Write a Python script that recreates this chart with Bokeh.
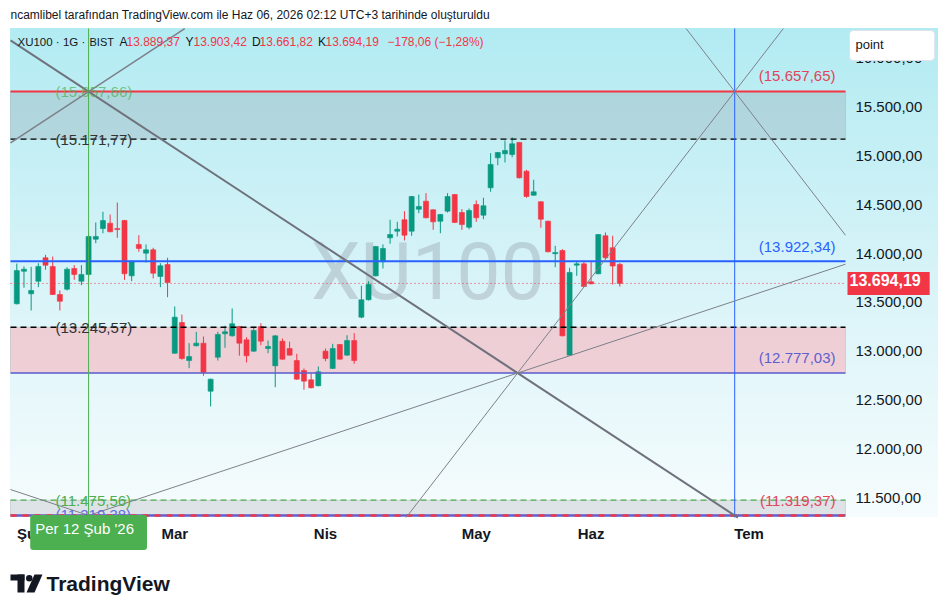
import numpy as np
from bokeh.plotting import figure
from bokeh.models import (FixedTicker, CustomJSTickFormatter, BoxAnnotation,
                          Label, ColumnDataSource, Range1d, PolyAnnotation)
from bokeh.embed import file_html
from bokeh.resources import INLINE

# ---------------- data (daily bars, index 0 = 29 Oca 2026) ----------------
opens = [13486, 13819, 13588, 13717, 13957, 13868, 13581, 13635, 13847, 13717,
         13786, 14147, 14256, 14311, 14256, 14338, 13772, 14093, 14004, 14038,
         13765, 13888, 12980, 13294, 12905, 13056, 13083, 12591, 12939, 13179,
         13158, 13253, 13117, 13001, 13253, 13028, 12851, 13103, 13028, 12905,
         12803, 12708, 12647, 13001, 12824, 13069, 12960, 13110, 13349, 13527,
         13772, 13916, 14161, 14229, 14346, 14229, 14454, 14536, 14448, 14331,
         14434, 14604, 14420, 14270, 14502, 14393, 14673, 14980, 15021, 15014,
         15137, 14843, 14597, 14530, 14331, 13998, 14031, 12960, 13881, 13895,
         13711, 13793, 14182, 14059, 13889.37]
highs = [13898, 13868, 13864, 13901, 13987, 13970, 13622, 13860, 13881, 13881,
         14195, 14318, 14427, 14400, 14522, 14345, 13925, 14188, 14093, 14059,
         13901, 13957, 13458, 13376, 13083, 13199, 13151, 12720, 13199, 13261,
         13438, 13260, 13144, 13253, 13287, 13110, 13165, 13131, 13097, 12974,
         12824, 12775, 12844, 13028, 13076, 13075, 13164, 13185, 13670, 13717,
         14078, 14093, 14346, 14325, 14434, 14590, 14604, 14618, 14452, 14405,
         14618, 14610, 14454, 14461, 14543, 14571, 15027, 15040, 15157, 15190,
         15140, 14857, 14755, 14535, 14336, 14079, 14045, 13854, 13922, 13916,
         13922, 14200, 14216, 14182, 13903.42]
lows = [13479, 13650, 13417, 13656, 13834, 13575, 13417, 13622, 13731, 13676,
        13765, 14106, 14208, 14218, 14161, 13731, 13717, 14018, 13908, 13745,
        13656, 13553, 12975, 12913, 12827, 13050, 12749, 12435, 12905, 13035,
        13150, 12954, 12885, 12995, 13062, 12980, 12632, 12913, 12955, 12708,
        12606, 12620, 12640, 12898, 12818, 12913, 12955, 12872, 13338, 13520,
        13766, 13847, 14100, 14175, 14134, 14182, 14413, 14360, 14243, 14208,
        14420, 14312, 14243, 14249, 14325, 14352, 14632, 14904, 14932, 14986,
        14770, 14571, 14592, 14264, 14013, 13860, 13152, 12954, 13772, 13658,
        13686, 13788, 13942, 13683, 13661.82]
closes = [13826, 13840, 13622, 13868, 13881, 13581, 13512, 13840, 13786, 13786,
          14175, 14175, 14338, 14223, 14246, 13793, 13922, 14052, 14038, 13799,
          13875, 13704, 13349, 12926, 12946, 13083, 12783, 12714, 13172, 13199,
          13281, 13083, 12954, 13212, 13103, 13049, 13158, 12919, 12960, 12714,
          12694, 12626, 12790, 12926, 13028, 12919, 13110, 12905, 13527, 13683,
          14072, 14052, 14195, 14249, 14188, 14584, 14482, 14366, 14325, 14400,
          14584, 14318, 14297, 14441, 14366, 14489, 14912, 15034, 15055, 15123,
          14775, 14584, 14632, 14352, 14018, 14011, 13158, 13806, 13895, 13663,
          13690, 14195, 13957, 13872.25, 13694.19]

month_ticks = [2, 22, 43, 64, 80, 102]
month_labels = ["Şub", "Mar", "Nis", "May", "Haz", "Tem"]
price_ticks = [11500, 12000, 12500, 13000, 13500, 14000, 14500, 15000, 15500, 16000]

# drawing anchors
anchor_x0 = 10          # Per 12 Şub '26
anchor_x1 = 100         # 29 Haz 2026
level_top = 15657.65
level_top_box = 15657.66
level_upper_dash = 15171.77
level_blue = 13922.34
level_lower_dash = 13245.57
level_purple = 12777.03
level_green_dash = 11475.56
level_bottom = 11319.37
level_bottom_box = 11319.38
symbol = "XU100"
cursor_date = "Per 12 Şub '26"

# visible price pane (bars / prices) and the whole canvas range
pane_x = (-0.877, 115.43)
pane_y = (11298.0, 16303.0)
full_x = (-2.2705, 128.388)
full_y = (10418.3, 16590.0)


def tr(v):
    s = f"{abs(v):,.2f}".replace(",", "X").replace(".", ",").replace("X", ".")
    return ("−" if v < 0 else "") + s


FONT = "Liberation Sans"
DARK = "#131722"
UP = "#089981"
DOWN = "#f23645"

p = figure(width=947, height=613, x_range=Range1d(*full_x), y_range=Range1d(*full_y),
           y_axis_location="right", output_backend="svg", toolbar_location=None,
           title=None, min_border_left=0, min_border_right=9, min_border_top=0,
           min_border_bottom=10)
p.background_fill_color = None
p.border_fill_color = None
p.outline_line_color = None
p.xgrid.visible = False
p.ygrid.visible = False
p.styles = {"background": "linear-gradient(180deg, rgb(178,235,242) 0%, rgb(222,245,249) 60%, "
                          "rgb(246,252,253) 100%) 10px 28px / 928px 489px no-repeat, #ffffff"}

# axes (labels pulled back into the price / time scale strips)
p.yaxis.ticker = FixedTicker(ticks=price_ticks)
p.yaxis.formatter = CustomJSTickFormatter(code="""
const s = tick.toFixed(2).split('.');
return s[0].replace(/\\B(?=(\\d{3})+(?!\\d))/g, '.') + ',' + s[1];
""")
p.yaxis.axis_line_color = None
p.yaxis.major_tick_line_color = None
p.yaxis.minor_tick_line_color = None
p.yaxis.major_tick_out = 0
p.yaxis.major_label_standoff = -83
p.yaxis.major_label_text_font = FONT
p.yaxis.major_label_text_font_size = "15px"
p.yaxis.major_label_text_color = DARK

p.xaxis.ticker = FixedTicker(ticks=month_ticks)
p.xaxis.major_label_overrides = {t: lab for t, lab in zip(month_ticks, month_labels)}
p.xaxis.axis_line_color = None
p.xaxis.major_tick_line_color = None
p.xaxis.minor_tick_line_color = None
p.xaxis.major_tick_out = 0
p.xaxis.major_label_standoff = -79
p.xaxis.major_label_text_font = FONT
p.xaxis.major_label_text_font_size = "15px"
p.xaxis.major_label_text_font_style = "bold"
p.xaxis.major_label_text_color = DARK

# watermark
p.add_layout(Label(x=427.5, y=271, x_units="canvas", y_units="canvas", text=symbol,
                   text_align="center", text_baseline="middle", text_font="Roboto",
                   text_font_size="79px", text_color="#787b86", text_alpha=0.27,
                   level="underlay"))

# zones
zone_kw = dict(left=pane_x[0], right=pane_x[1], line_color="#9598a1", line_width=1,
               level="underlay")
p.add_layout(BoxAnnotation(bottom=level_upper_dash, top=level_top_box, fill_color="#8c9ba0",
                           fill_alpha=0.28, **zone_kw))
p.add_layout(BoxAnnotation(bottom=level_purple, top=level_lower_dash, fill_color="#fba7b1",
                           fill_alpha=0.5, **zone_kw))
p.add_layout(BoxAnnotation(bottom=level_bottom_box, top=level_green_dash, fill_color="#b2b5be",
                           fill_alpha=0.35, **zone_kw))

# candles
o = np.array(opens, float); h = np.array(highs, float)
l = np.array(lows, float); c = np.array(closes, float)
idx = np.arange(len(c))
for mask, col in ((c >= o, UP), (c < o, DOWN)):
    src = ColumnDataSource(dict(x=idx[mask], hi=h[mask], lo=l[mask],
                                top=np.maximum(o, c)[mask], bot=np.minimum(o, c)[mask]))
    p.segment(x0="x", y0="lo", x1="x", y1="hi", line_color=col, line_width=1, source=src)
    p.vbar(x="x", width=0.7, top="top", bottom="bot", fill_color=col, line_color=col,
           line_width=0.6, source=src)


def hline(level, color, width, dash="solid"):
    p.segment(x0=[pane_x[0]], y0=[level], x1=[pane_x[1]], y1=[level], line_color=color,
              line_width=width, line_dash=dash)


def vline(x, color, width):
    p.segment(x0=[x], y0=[pane_y[0]], x1=[x], y1=[pane_y[1]], line_color=color,
              line_width=width)


# horizontal lines
hline(level_top, "#f23645", 2)
hline(level_upper_dash, "#000000", 1.3, "6 4")
hline(level_blue, "#2962ff", 2)
hline(level_lower_dash, "#000000", 1.3, "6 4")
hline(level_purple, "#5d5fcf", 1.5)
hline(level_green_dash, "#4caf50", 1.2, "6 4")
hline(level_bottom, "#5d5fcf", 2.5)
hline(level_bottom, "#f23645", 2.5, "6 6")
hline(closes[-1], "#f23645", 1, "1 3")

# vertical lines
vline(anchor_x0, "#4caf50", 1)
vline(anchor_x1, "#2962ff", 1)

# fan / cross lines through the anchors, limited to the price pane
gA = (level_bottom - level_top) / (anchor_x1 - anchor_x0)
xX = anchor_x0 + (level_purple - level_top) / gA
gD = (level_top - level_purple) / (anchor_x1 - xX)
gE = (level_purple - level_bottom) / (xX - anchor_x0)
lines = [
    (gA, anchor_x0, level_top, 2.0, "#6f727c"),
    (-gA, anchor_x0, level_top, 1.5, "#7d808a"),
    (gD, anchor_x1, level_top, 1.0, "#7d808a"),
    (-gD, anchor_x1, level_top, 1.0, "#7d808a"),
    (gE, anchor_x0, level_bottom, 1.0, "#7d808a"),
    (-gE, anchor_x0, level_bottom, 1.0, "#7d808a"),
]
for g, x0, y0, w, col in lines:
    b = y0 - g * x0
    xa, xb = sorted(((pane_y[0] - b) / g, (pane_y[1] - b) / g))
    lo_x, hi_x = max(pane_x[0], xa), min(pane_x[1], xb)
    if lo_x < hi_x:
        p.segment(x0=[lo_x], y0=[g * lo_x + b], x1=[hi_x], y1=[g * hi_x + b],
                  line_color=col, line_width=w)


# level labels
def lvl_label(val, side, color, off, alpha=1.0):
    right = side == "right"
    p.add_layout(Label(x=835 if right else 55, y=val, x_units="canvas", y_units="data",
                       text=f"({tr(val)})", text_align="right" if right else "left",
                       text_baseline="middle", y_offset=off, text_font=FONT,
                       text_font_size="15px", text_color=color, text_alpha=alpha))


lvl_label(level_top, "right", "#e0455a", 16)
lvl_label(level_top_box, "left", "#4caf50", 0, 0.7)
lvl_label(level_upper_dash, "left", "#333333", 0)
lvl_label(level_blue, "right", "#2962ff", 15)
lvl_label(level_lower_dash, "left", "#333333", 0)
lvl_label(level_purple, "right", "#5d5fcf", 16)
lvl_label(level_green_dash, "left", "#4caf50", 0)
lvl_label(level_bottom_box, "left", "#5d6fdf", 1)
lvl_label(level_bottom, "right", "#e0455a", 15)

# last price tag on the axis
p.add_layout(Label(x=847, y=closes[-1], x_units="canvas", y_units="data", text=tr(closes[-1]),
                   text_align="left", text_baseline="middle", text_font=FONT,
                   text_font_size="16px", text_font_style="bold", text_color="white",
                   background_fill_color="#f23645", padding=(2, 9, 2, 9)))

# date tag under the green line
p.add_layout(Label(x=anchor_x0, y=532, x_units="data", y_units="canvas", text=cursor_date,
                   text_align="center", text_baseline="middle", text_font=FONT,
                   text_font_size="15px", text_color="white", border_radius=3,
                   background_fill_color="#4caf50", padding=(5, 13, 5, 13)))

# "point" box
p.add_layout(Label(x=849, y=30, x_units="canvas", y_units="canvas", text="point",
                   text_align="left", text_baseline="top", text_font=FONT,
                   text_font_size="13px", text_color=DARK, background_fill_color="white",
                   border_line_color="#e0e3eb", border_line_width=1,
                   padding=(6, 51, 6, 9), border_radius=4))

# top caption
p.add_layout(Label(x=10, y=14, x_units="canvas", y_units="canvas",
                   text="ncamlibel tarafından TradingView.com ile Haz 06, 2026 02:12 UTC+3 tarihinde oluşturuldu",
                   text_align="left", text_baseline="middle", text_font=FONT,
                   text_font_size="12px", text_color=DARK))

# legend row
chg = closes[-1] - closes[-2]
pct = chg / closes[-2] * 100
parts = [(17, "XU100 · 1G ·", DARK, "11.5px"), (89, "BIST", DARK, "11px"),
         (119, "A", DARK, "12px"), (126, tr(opens[-1]), DOWN, "12px"),
         (185, "Y", DARK, "12px"), (193, tr(highs[-1]), DOWN, "12px"),
         (251.5, "D", DARK, "12px"), (259, tr(lows[-1]), DOWN, "12px"),
         (317.5, "K", DARK, "12px"), (325, tr(closes[-1]), DOWN, "12px"),
         (387, f"{tr(chg)} ({tr(pct)}%)", DOWN, "12px")]
for x, t, col, fs in parts:
    p.add_layout(Label(x=x, y=41, x_units="canvas", y_units="canvas", text=t,
                       text_align="left", text_baseline="middle", text_font=FONT,
                       text_font_size=fs, text_color=col))

# TradingView logo
cu = dict(left_units="canvas", right_units="canvas", top_units="canvas",
          bottom_units="canvas", fill_color="#131722", fill_alpha=1, line_color=None)
p.add_layout(BoxAnnotation(left=10, right=24, top=574, bottom=580, **cu))
p.add_layout(BoxAnnotation(left=17, right=24, top=574, bottom=592, **cu))
p.add_layout(BoxAnnotation(left=25.5, right=32, top=574.5, bottom=581, border_radius=4, **cu))
p.add_layout(PolyAnnotation(xs=[34, 42, 34, 26], ys=[574, 574, 592, 592], xs_units="canvas",
                            ys_units="canvas", fill_color="#131722", fill_alpha=1,
                            line_color=None))
p.add_layout(Label(x=46, y=583, x_units="canvas", y_units="canvas", text="TradingView",
                   text_align="left", text_baseline="middle", text_font=FONT,
                   text_font_size="21px", text_font_style="bold", text_color="#131722"))

open("out.html", "w").write(file_html(p, INLINE))
